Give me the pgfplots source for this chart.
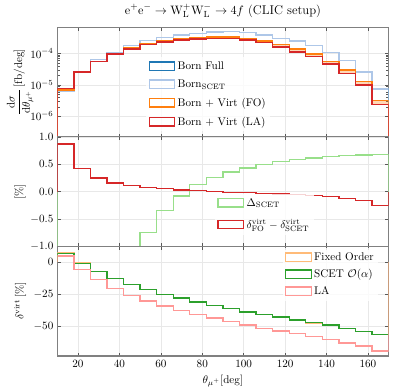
\documentclass[border=0pt]{standalone}
\usepackage{pgfplots}
\pgfplotsset{compat=1.18}
\usepgfplotslibrary{fillbetween}

\definecolor{tabblue}{HTML}{1F77B4}
\definecolor{tablightblue}{HTML}{AEC7E8}
\definecolor{taborange}{HTML}{FF7F0E}
\definecolor{tablightorange}{HTML}{FFBB78}
\definecolor{tabgreen}{HTML}{2CA02C}
\definecolor{tablightgreen}{HTML}{98DF8A}
\definecolor{tabred}{HTML}{D62728}
\definecolor{tablightred}{HTML}{FF9896}

\pgfplotsset{
  panel/.style={
    width=298pt, height=98.5pt, scale only axis,
    xmin=10, xmax=170, xtick={20,40,...,160},
    grid=major, grid style={gray!18, line width=0.5pt},
    axis line style={gray, line width=1.1pt},
    tick style={gray!70!black, line width=0.5pt}, major tick length=3pt,
    every axis y label/.append style={at={(axis description cs:-0.112,0.5)}, anchor=center},
    legend image code/.code={\draw[##1,fill=none] (0pt,-3.5pt) rectangle (23pt,4pt);},
    legend style={draw=none, fill=white, fill opacity=0.8, text opacity=1,
      cells={anchor=west}, row sep=3pt, inner sep=2pt},
  },
  hist/.style={const plot, line width=1.2pt},
}

\begin{document}
\begin{tikzpicture}

% upper panel: differential cross section
\begin{axis}[panel, name=top, ymode=log, ymin=2.2e-7, ymax=6.8e-4,
  ytick={1e-6,1e-5,1e-4}, minor ytick={}, xticklabels={},
  ylabel={$\displaystyle\frac{\mathrm{d}\sigma}{\mathrm{d}\theta_{\mu^+}}\,[\mathrm{fb/deg}]$},
  title={$\mathrm{e^+e^-}\to\mathrm{W^+_LW^-_L}\to 4f$ (CLIC setup)},
  title style={font=\fontsize{11.4}{13}\selectfont, yshift=-1pt},
  legend style={at={(rel axis cs:0.268,0.73)}, anchor=north west, row sep=4pt}]
  \addplot[hist, tabblue] coordinates {
    (10,1e-8)(10,6.0e-6)(18,2.6e-5)(26,6.3e-5)(34,1.1e-4)(42,1.82e-4)(50,2.57e-4)
    (58,3.24e-4)(66,3.85e-4)(74,4.37e-4)(82,4.79e-4)(90,4.9e-4)(98,4.57e-4)
    (106,3.85e-4)(114,3.02e-4)(122,2.51e-4)(130,1.78e-4)(138,1.05e-4)(146,5.9e-5)
    (154,2.6e-5)(162,7.4e-6)(170,7.4e-6)(170,1e-8)};
  \addlegendentry{Born Full}
  \addplot[hist, tablightblue] coordinates {
    (10,1e-8)(10,6.0e-6)(18,2.6e-5)(26,6.3e-5)(34,1.1e-4)(42,1.82e-4)(50,2.57e-4)
    (58,3.24e-4)(66,3.85e-4)(74,4.37e-4)(82,4.79e-4)(90,4.9e-4)(98,4.57e-4)
    (106,3.85e-4)(114,3.02e-4)(122,2.51e-4)(130,1.78e-4)(138,1.05e-4)(146,5.9e-5)
    (154,2.6e-5)(162,7.4e-6)(170,7.4e-6)(170,1e-8)};
  \addlegendentry{Born$_{\mathrm{SCET}}$}
  \addplot[hist, taborange, name path=fo] coordinates {
    (10,1e-8)(10,6.9e-6)(18,2.63e-5)(26,5.6e-5)(34,1.0e-4)(42,1.55e-4)(50,2.09e-4)
    (58,2.57e-4)(66,2.95e-4)(74,3.16e-4)(82,3.31e-4)(90,3.39e-4)(98,2.95e-4)
    (106,2.51e-4)(114,1.95e-4)(122,1.38e-4)(130,9.55e-5)(138,5.6e-5)(146,2.95e-5)
    (154,1.29e-5)(162,3.1e-6)(170,3.1e-6)(170,1e-8)};
  \addlegendentry{Born $+$ Virt (FO)}
  \addplot[hist, tabred, name path=la] coordinates {
    (10,1e-8)(10,7.6e-6)(18,2.6e-5)(26,5.43e-5)(34,9.55e-5)(42,1.38e-4)(50,1.95e-4)
    (58,2.34e-4)(66,2.66e-4)(74,2.88e-4)(82,3.02e-4)(90,3.02e-4)(98,2.66e-4)
    (106,2.24e-4)(114,1.62e-4)(122,1.12e-4)(130,7.85e-5)(138,4.57e-5)(146,2.29e-5)
    (154,9.8e-6)(162,2.34e-6)(170,2.34e-6)(170,1e-8)};
  \addlegendentry{Born $+$ Virt (LA)}
  \addplot[taborange, fill opacity=0.3, draw=none, forget plot] fill between[of=fo and la];
\end{axis}

% middle panel: differences
\begin{axis}[panel, name=mid, at={(top.south west)}, anchor=north west,
  ymin=-1, ymax=1, ytick={-1,-0.5,0,0.5,1}, xticklabels={},
  yticklabel style={/pgf/number format/.cd, fixed, fixed zerofill, precision=1},
  ylabel={[\%]},
  legend style={at={(rel axis cs:0.476,0.48)}, anchor=north west, row sep=6.5pt}]
  \addplot[hist, tablightgreen] coordinates {
    (10,0)(10,-8)(18,-6)(26,-4)(34,-2.5)(42,-1.5)(50,-0.74)(58,-0.34)(66,-0.08)
    (74,0.128)(82,0.256)(90,0.36)(98,0.43)(106,0.50)(114,0.55)(122,0.585)
    (130,0.615)(138,0.64)(146,0.66)(154,0.67)(162,0.68)(170,0.68)(170,0)};
  \addlegendentry{$\Delta_{\mathrm{SCET}}$}
  \addplot[hist, tabred] coordinates {
    (10,0)(10,0.87)(18,0.42)(26,0.25)(34,0.16)(42,0.115)(50,0.08)(58,0.055)(66,0.03)
    (74,0.018)(82,0.005)(90,-0.01)(98,-0.02)(106,-0.03)(114,-0.04)(122,-0.05)
    (130,-0.065)(138,-0.085)(146,-0.12)(154,-0.165)(162,-0.25)(170,-0.25)(170,0)};
  \addlegendentry{$\delta^{\mathrm{virt}}_{\mathrm{FO}}-\delta^{\mathrm{virt}}_{\mathrm{SCET}}$}
\end{axis}

% lower panel: relative virtual corrections
\begin{axis}[panel, name=bot, at={(mid.south west)}, anchor=north west,
  ymin=-73.4, ymax=12.5, ytick={-50,-25,0},
  xlabel={$\theta_{\mu^+}[\mathrm{deg}]$},
  ylabel={$\delta^{\mathrm{virt}}\,[\%]$},
  legend style={at={(rel axis cs:0.68,0.985)}, anchor=north west, row sep=2.5pt}]
  \addplot[hist, tablightorange] coordinates {
    (10,0)(10,8.0)(18,-0.4)(26,-7.15)(34,-12.75)(42,-17.5)(50,-21.4)(58,-25.05)
    (66,-27.97)(74,-31.18)(82,-33.8)(90,-36.1)(98,-38.82)(106,-40.83)(114,-42.94)
    (122,-45.35)(130,-47.47)(138,-49.29)(146,-51.72)(154,-54.37)(162,-56.75)
    (170,-56.75)(170,0)};
  \addlegendentry{Fixed Order}
  \addplot[hist, tabgreen] coordinates {
    (10,0)(10,7.1)(18,-0.8)(26,-7.4)(34,-12.9)(42,-17.6)(50,-21.5)(58,-25.1)
    (66,-28)(74,-31.2)(82,-33.8)(90,-36.1)(98,-38.8)(106,-40.8)(114,-42.9)
    (122,-45.3)(130,-47.4)(138,-49.2)(146,-51.6)(154,-54.2)(162,-56.5)
    (170,-56.5)(170,0)};
  \addlegendentry{SCET $\mathcal{O}(\alpha)$}
  \addplot[hist, tablightred] coordinates {
    (10,0)(10,5)(18,-5.5)(26,-13.6)(34,-20.4)(42,-25.9)(50,-30.4)(58,-34.3)
    (66,-37.7)(74,-41.1)(82,-43.7)(90,-46.6)(98,-49)(106,-51.6)(114,-53.7)
    (122,-56)(130,-58.1)(138,-60.5)(146,-63.1)(154,-65.7)(162,-69.6)
    (170,-69.6)(170,0)};
  \addlegendentry{LA}
\end{axis}

% page margins as in the reference
\path (top.north west) ++(-51.5pt,19.8pt) coordinate (bbnw);
\path (bot.south east) ++(4.8pt,-28.8pt) coordinate (bbse);
\path (bbnw) (bbse);

\end{tikzpicture}
\end{document}
